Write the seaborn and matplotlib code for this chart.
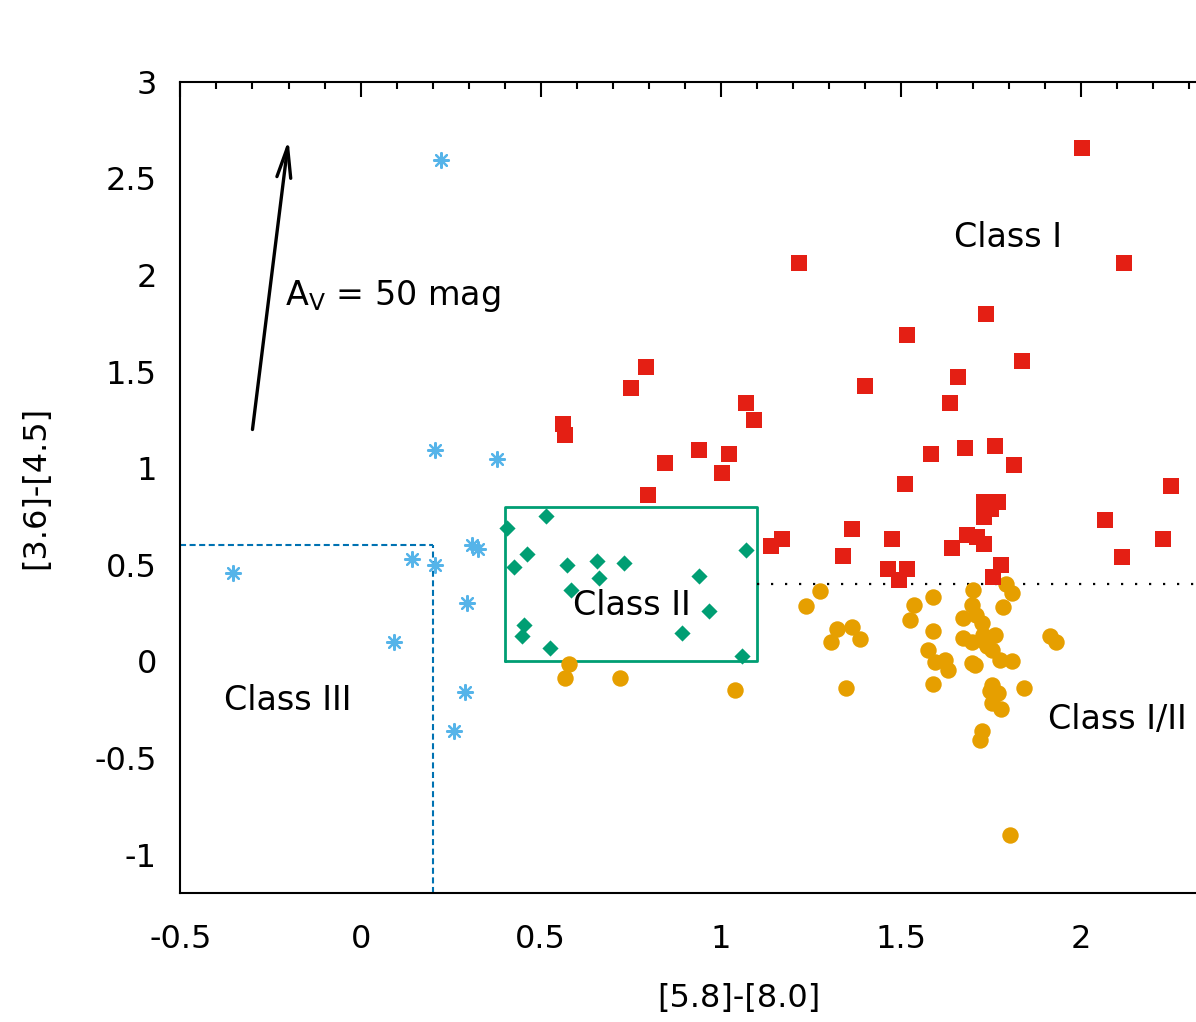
import matplotlib
matplotlib.use("Agg")
import matplotlib.pyplot as plt
import seaborn as sns
import pandas as pd
from matplotlib.ticker import MultipleLocator

# ---------------- data ----------------
class1_x = [1.216, 0.791, 0.749, 0.561, 0.567, 1.069, 1.092, 0.939, 1.021, 0.845,
            1.004, 0.797, 1.364, 1.168, 1.139, 1.339, 2.002, 2.119, 1.735, 1.517,
            1.836, 1.400, 1.658, 1.635, 1.582, 1.677, 1.759, 1.812, 1.511, 2.249,
            1.475, 2.066, 2.226, 2.113, 1.683, 1.711, 1.730, 1.641, 1.778, 1.464,
            1.517, 1.494, 1.754, 1.730, 1.770, 1.749, 1.730]
class1_y = [2.063, 1.525, 1.413, 1.227, 1.172, 1.336, 1.249, 1.094, 1.072, 1.028,
            0.974, 0.861, 0.687, 0.632, 0.599, 0.546, 2.658, 2.063, 1.798, 1.689,
            1.556, 1.425, 1.470, 1.336, 1.072, 1.106, 1.115, 1.017, 0.918, 0.908,
            0.632, 0.732, 0.632, 0.542, 0.654, 0.646, 0.608, 0.586, 0.499, 0.477,
            0.477, 0.422, 0.434, 0.827, 0.827, 0.788, 0.746]

class2_x = [0.407, 0.514, 0.461, 0.426, 0.574, 0.655, 0.732, 0.661, 0.584, 0.454,
            0.449, 0.526, 0.939, 0.968, 0.891, 1.069, 1.057]
class2_y = [0.689, 0.753, 0.556, 0.487, 0.499, 0.521, 0.511, 0.430, 0.370, 0.189,
            0.133, 0.070, 0.444, 0.258, 0.146, 0.577, 0.028]

class12_x = [1.275, 1.235, 1.323, 1.364, 1.305, 1.386, 1.346, 1.588, 1.535, 1.524,
             1.913, 1.930, 1.842, 1.700, 1.791, 1.807, 1.783, 1.696, 1.671, 1.709,
             1.723, 1.587, 1.671, 1.696, 1.728, 1.760, 1.575, 1.594, 1.622, 1.631,
             1.751, 1.774, 1.807, 1.696, 1.705, 1.587, 1.751, 1.769, 1.746, 1.751,
             1.776, 1.723, 1.719, 1.733, 1.737, 1.801, 0.579, 0.567, 0.720, 1.039]
class12_y = [0.366, 0.289, 0.168, 0.180, 0.102, 0.115, -0.139, 0.335, 0.291, 0.213,
             0.132, 0.102, -0.139, 0.370, 0.401, 0.356, 0.280, 0.292, 0.223, 0.241,
             0.198, 0.158, 0.120, 0.102, 0.137, 0.137, 0.059, -0.001, 0.008, -0.044,
             0.059, 0.008, 0.004, -0.009, -0.018, -0.116, -0.122, -0.165, -0.156, -0.216,
             -0.247, -0.363, -0.406, 0.102, 0.077, -0.897, -0.014, -0.087, -0.087, -0.147]

class3_x = [0.223, 0.206, 0.378, -0.355, 0.142, 0.206, 0.309, 0.326, 0.294, 0.094,
            0.290, 0.260]
class3_y = [2.594, 1.095, 1.046, 0.456, 0.530, 0.499, 0.603, 0.582, 0.301, 0.102,
            -0.161, -0.360]

x_ticks = [-0.5, 0, 0.5, 1, 1.5, 2]
x_ticklabels = ["-0.5", "0", "0.5", "1", "1.5", "2"]
y_ticks = [-1, -0.5, 0, 0.5, 1, 1.5, 2, 2.5, 3]
y_ticklabels = ["-1", "-0.5", "0", "0.5", "1", "1.5", "2", "2.5", "3"]

# ---------------- style ----------------
sns.set_style("white")
plt.rcParams["font.family"] = ["DejaVu Sans"]
plt.rcParams["axes.unicode_minus"] = False
plt.rcParams["text.color"] = "black"
plt.rcParams["axes.labelcolor"] = "black"
plt.rcParams["xtick.color"] = "black"
plt.rcParams["ytick.color"] = "black"

RED = "#e41f14"
ORANGE = "#e69f00"
GREEN = "#009e73"
SKY = "#56b4e9"
BLUE = "#0072b2"

fig = plt.figure(figsize=(11.96, 10.22), dpi=100)
ax = fig.add_axes([0.15084, 0.12603, 0.93411, 0.79403])

df1 = pd.DataFrame({"x": class1_x, "y": class1_y})
df2 = pd.DataFrame({"x": class2_x, "y": class2_y})
df12 = pd.DataFrame({"x": class12_x, "y": class12_y})
df3 = pd.DataFrame({"x": class3_x, "y": class3_y})

sns.scatterplot(data=df12, x="x", y="y", ax=ax, marker="o", s=140,
                color=ORANGE, linewidth=0, zorder=3)
sns.scatterplot(data=df1, x="x", y="y", ax=ax, marker="s", s=125,
                color=RED, linewidth=0, zorder=4)
sns.scatterplot(data=df2, x="x", y="y", ax=ax, marker="D", s=68,
                color=GREEN, linewidth=0, zorder=4)
ax.scatter(df3["x"], df3["y"], marker=(8, 2, 0), s=115, color=SKY,
           linewidths=1.6, zorder=4)

# region boundaries
ax.plot([-0.5, 0.2], [0.6, 0.6], color=BLUE, lw=1.5, linestyle=(0, (2.9, 1.7)), zorder=2)
ax.plot([0.2, 0.2], [-1.2, 0.6], color=BLUE, lw=1.5, linestyle=(0, (2.9, 1.7)), zorder=2)
ax.plot([0.4, 1.1, 1.1, 0.4, 0.4], [0, 0, 0.8, 0.8, 0], color=GREEN, lw=2.0, zorder=2)
ax.plot([1.1, 2.6], [0.4, 0.4], color="black", lw=1.6, linestyle=(0, (1, 5.3)), zorder=2)

# extinction vector
ax.annotate("", xy=(-0.2, 2.7), xytext=(-0.3, 1.2),
            arrowprops=dict(arrowstyle="->,head_length=2.2,head_width=0.5",
                            lw=2.4, color="black", shrinkA=0, shrinkB=0))

FS = 23
TFS = 24
ax.text(-0.211, 1.89, r"A$_\mathrm{V}$ = 50 mag", fontsize=TFS, ha="left", va="center")
ax.text(1.796, 2.196, "Class I", fontsize=TFS, ha="center", va="center")
ax.text(0.753, 0.287, "Class II", fontsize=TFS, ha="center", va="center")
ax.text(-0.201, -0.204, "Class III", fontsize=TFS, ha="center", va="center")
ax.text(2.1, -0.30, "Class I/II", fontsize=TFS, ha="center", va="center")

ax.set_xlim(-0.5, 2.6)
ax.set_ylim(-1.2, 3)
ax.set_xticks(x_ticks)
ax.set_xticklabels(x_ticklabels)
ax.set_yticks(y_ticks)
ax.set_yticklabels(y_ticklabels)
ax.xaxis.set_minor_locator(MultipleLocator(0.1))
ax.yaxis.set_minor_locator(MultipleLocator(0.1))
ax.tick_params(which="both", direction="in", top=True, right=True, width=1.5,
               color="black")
ax.tick_params(which="major", length=11, labelsize=FS)
ax.tick_params(which="minor", length=5)
ax.tick_params(axis="x", which="major", pad=22)
ax.tick_params(axis="y", which="major", pad=17)
for sp in ax.spines.values():
    sp.set_linewidth(1.5)
    sp.set_color("black")

ax.set_xlabel("[5.8]-[8.0]", fontsize=FS, labelpad=20)
ax.set_ylabel("[3.6]-[4.5]", fontsize=FS, labelpad=31)

fig.savefig("out.png", dpi=100)
